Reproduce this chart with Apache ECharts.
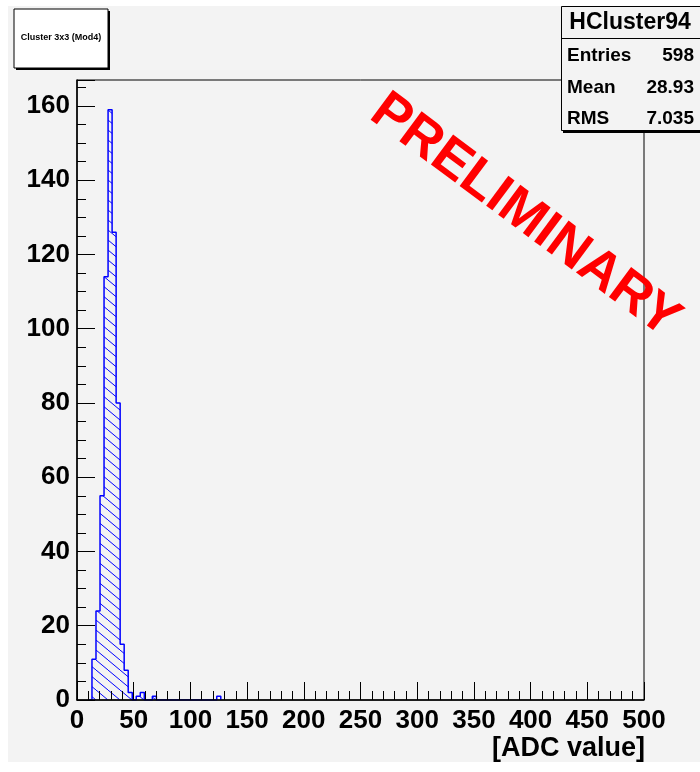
<!DOCTYPE html>
<html>
<head>
<meta charset="utf-8">
<script src="https://cdn.jsdelivr.net/npm/echarts@6/dist/echarts.min.js"></script>
<style>
  html, body { margin: 0; padding: 0; background: #fff; }
  #chart { width: 700px; height: 772px; }
</style>
</head>
<body>
<div id="chart"></div>
<script>
// histogram binning
const binStart = 13.2
const binWidth = 3.55
const counts = [11, 24, 55, 114, 159, 126, 80, 15, 8, 2, 0, 1, 2, 0, 0, 1,
  0, 0, 0, 0, 0, 0, 0, 0, 0, 0, 0, 0, 0, 0, 0, 1]

const title = 'Cluster 3x3 (Mod4)'
const statsName = 'HCluster94'
const statsLabels = ['Entries', 'Mean', 'RMS']
const statsValues = ['598', '28.93', '7.035']
const xTitle = '[ADC value]'

const sans = '"Liberation Sans", Arial, sans-serif'
const bg = '#f3f3f3'

// step outline points: start on the baseline, one point per bin low edge, drop at the end
const points = [[binStart - binWidth, 0]]
counts.forEach((c, i) => points.push([binStart + i * binWidth, c]))
points.push([binStart + counts.length * binWidth, 0])

// hatch pattern like ROOT fill style 3005
const hatch = document.createElement('canvas')
hatch.width = 12
hatch.height = 10
const hc = hatch.getContext('2d')
hc.strokeStyle = '#0000ff'
hc.lineWidth = 1
hc.beginPath()
hc.moveTo(-12, -10)
hc.lineTo(24, 20)
hc.stroke()

const chart = echarts.init(document.getElementById('chart'))

const statsRows = []
statsLabels.forEach((label, i) => {
  const y = 56 + i * 31.5
  statsRows.push({
    type: 'text', x: 567, y: y,
    style: { text: label, fill: '#000', font: 'bold 19px ' + sans, align: 'left', verticalAlign: 'middle' }
  })
  statsRows.push({
    type: 'text', x: 694, y: y,
    style: { text: statsValues[i], fill: '#000', font: 'bold 19px ' + sans, align: 'right', verticalAlign: 'middle' }
  })
})

const axisText = { fontFamily: sans, fontWeight: 'bold', fontSize: 26, color: '#000' }

chart.setOption({
  backgroundColor: bg,
  animation: false,
  grid: {
    left: 77, right: 56, top: 80, bottom: 72,
    show: true, borderColor: '#000', borderWidth: 1
  },
  xAxis: {
    type: 'value', min: 0, max: 500, interval: 50, z: 5,
    axisLine: { lineStyle: { color: '#000', width: 1.5 } },
    axisTick: { inside: true, length: 18, lineStyle: { color: '#000' } },
    minorTick: { show: true, splitNumber: 5, length: 9, lineStyle: { color: '#000' } },
    splitLine: { show: false },
    axisLabel: Object.assign({ margin: 8 }, axisText)
  },
  yAxis: {
    type: 'value', min: 0, max: 167, interval: 20, z: 5,
    axisLine: { show: true, lineStyle: { color: '#000', width: 1.5 } },
    axisTick: { show: true, inside: true, length: 18, lineStyle: { color: '#000' } },
    minorTick: { show: true, splitNumber: 4, length: 9, lineStyle: { color: '#000' } },
    splitLine: { show: false },
    axisLabel: Object.assign({ margin: 7, showMaxLabel: false }, axisText)
  },
  series: [{
    type: 'line',
    step: 'end',
    data: points,
    symbol: 'none',
    lineStyle: { color: '#0000ff', width: 1.5 },
    areaStyle: { color: { image: hatch, repeat: 'repeat' }, opacity: 1, origin: 'start' }
  }],
  graphic: [
    // white page border
    { type: 'rect', shape: { x: 0, y: 0, width: 8, height: 772 }, style: { fill: '#fff' }, silent: true },
    { type: 'rect', shape: { x: 0, y: 0, width: 700, height: 6 }, style: { fill: '#fff' }, silent: true },
    { type: 'rect', shape: { x: 0, y: 762, width: 700, height: 10 }, style: { fill: '#fff' }, silent: true },
    // title box
    { type: 'rect', shape: { x: 16, y: 11, width: 94, height: 59 }, style: { fill: '#000' } },
    { type: 'rect', shape: { x: 14, y: 9, width: 94, height: 59 }, style: { fill: '#fff', stroke: '#000', lineWidth: 1 } },
    { type: 'text', x: 61, y: 38, style: { text: title, fill: '#000', font: 'bold 9px ' + sans, align: 'center', verticalAlign: 'middle' } },
    // stats box
    { type: 'rect', shape: { x: 563, y: 8, width: 140, height: 125 }, style: { fill: '#000' } },
    { type: 'rect', shape: { x: 561.5, y: 6.5, width: 145, height: 124 }, style: { fill: bg, stroke: '#000', lineWidth: 1 } },
    { type: 'line', shape: { x1: 561.5, y1: 38.5, x2: 700, y2: 38.5 }, style: { stroke: '#000', lineWidth: 1 } },
    { type: 'text', x: 630, y: 23, style: { text: statsName, fill: '#000', font: 'bold 23px ' + sans, align: 'center', verticalAlign: 'middle' } },
    ...statsRows,
    // watermark
    { type: 'text', x: 525, y: 216, rotation: -0.64,
      style: { text: 'PRELIMINARY', fill: '#ff0000', font: 'bold 54px ' + sans, align: 'center', verticalAlign: 'middle' } },
    // x axis title
    { type: 'text', x: 645, y: 749, style: { text: xTitle, fill: '#000', font: 'bold 27px ' + sans, align: 'right', verticalAlign: 'middle' } }
  ]
})
</script>
</body>
</html>
